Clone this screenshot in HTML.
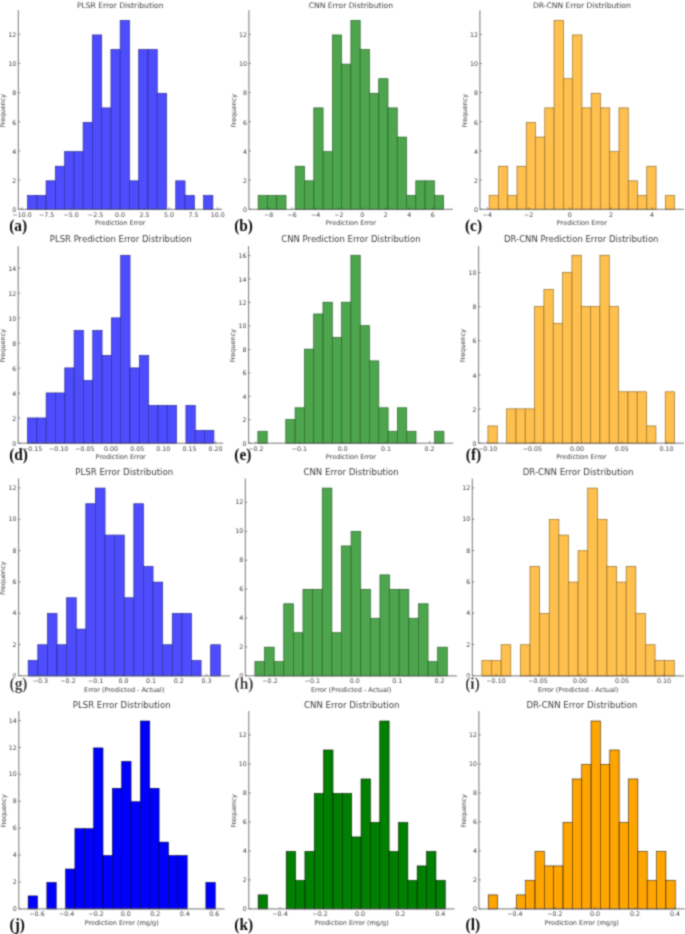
<!DOCTYPE html>
<html lang="en"><head><meta charset="utf-8"><title>Error distributions</title>
<style>html,body{margin:0;padding:0;background:#fff}svg{display:block}.t{font-family:"DejaVu Sans", "Liberation Sans", sans-serif;fill:#404040}.p{font-family:"Liberation Serif", "DejaVu Serif", serif;font-weight:bold;fill:#111}</style></head><body>
<svg width="685" height="934" viewBox="0 0 685 934">
<rect width="685" height="934" fill="#fff"/>
<defs><filter id="bl" x="0" y="0" width="685" height="934" filterUnits="userSpaceOnUse"><feConvolveMatrix order="3" kernelMatrix="0.0400 0.1200 0.0400 0.1200 0.3600 0.1200 0.0400 0.1200 0.0400" divisor="1" edgeMode="duplicate" preserveAlpha="false"/></filter></defs>
<g filter="url(#bl)">
<g>
<g fill="#4d4dff" stroke="#2a2a8c" stroke-width="0.7">
<rect x="27.56" y="195.41" width="9.26" height="13.89"/>
<rect x="36.83" y="195.41" width="9.26" height="13.89"/>
<rect x="46.09" y="180.83" width="9.26" height="28.47"/>
<rect x="55.35" y="166.24" width="9.26" height="43.06"/>
<rect x="64.62" y="151.66" width="9.26" height="57.64"/>
<rect x="73.88" y="151.66" width="9.26" height="57.64"/>
<rect x="83.15" y="122.48" width="9.26" height="86.82"/>
<rect x="92.41" y="34.97" width="9.26" height="174.33"/>
<rect x="101.67" y="107.90" width="9.26" height="101.40"/>
<rect x="110.94" y="49.55" width="9.26" height="159.75"/>
<rect x="120.20" y="20.38" width="9.26" height="188.92"/>
<rect x="129.46" y="180.83" width="9.26" height="28.47"/>
<rect x="138.73" y="49.55" width="9.26" height="159.75"/>
<rect x="147.99" y="49.55" width="9.26" height="159.75"/>
<rect x="157.25" y="93.31" width="9.26" height="115.99"/>
<rect x="175.78" y="180.83" width="9.26" height="28.47"/>
<rect x="185.05" y="195.41" width="9.26" height="13.89"/>
<rect x="203.57" y="195.41" width="9.26" height="13.89"/>
</g>
<path d="M18.30 10.20V209.30H222.10" fill="none" stroke="#555" stroke-width="0.8"/>
<path d="M18.30 209.30h2M18.30 180.13h2M18.30 150.96h2M18.30 121.78h2M18.30 92.61h2M18.30 63.44h2M18.30 34.27h2M22.10 209.30v-2M46.57 209.30v-2M71.04 209.30v-2M95.51 209.30v-2M119.98 209.30v-2M144.45 209.30v-2M168.92 209.30v-2M193.39 209.30v-2M217.86 209.30v-2" stroke="#444" stroke-width="0.6" fill="none"/>
<g class="t" font-size="6.3">
<text x="16.30" y="212.10" text-anchor="end">0</text>
<text x="16.30" y="182.93" text-anchor="end">2</text>
<text x="16.30" y="153.76" text-anchor="end">4</text>
<text x="16.30" y="124.58" text-anchor="end">6</text>
<text x="16.30" y="95.41" text-anchor="end">8</text>
<text x="16.30" y="66.24" text-anchor="end">10</text>
<text x="16.30" y="37.07" text-anchor="end">12</text>
<text x="22.10" y="216.80" text-anchor="middle">−10.0</text>
<text x="46.57" y="216.80" text-anchor="middle">−7.5</text>
<text x="71.04" y="216.80" text-anchor="middle">−5.0</text>
<text x="95.51" y="216.80" text-anchor="middle">−2.5</text>
<text x="119.98" y="216.80" text-anchor="middle">0.0</text>
<text x="144.45" y="216.80" text-anchor="middle">2.5</text>
<text x="168.92" y="216.80" text-anchor="middle">5.0</text>
<text x="193.39" y="216.80" text-anchor="middle">7.5</text>
<text x="217.86" y="216.80" text-anchor="middle">10.0</text>
</g>
<text class="t" font-size="7.6" x="120.20" y="7.90" text-anchor="middle">PLSR Error Distribution</text>
<text class="t" font-size="6.5" x="120.20" y="225.30" text-anchor="middle">Prediction Error</text>
<text class="t" font-size="6.5" transform="translate(5.10 110.75) rotate(-90)" text-anchor="middle">Frequency</text>
<text class="p" font-size="16" transform="translate(18.20 231.20) scale(0.96 1)" text-anchor="middle">(a)</text>
</g>
<g>
<g fill="#4da64d" stroke="#2a5c2a" stroke-width="0.7">
<rect x="258.17" y="195.41" width="9.27" height="13.89"/>
<rect x="267.45" y="195.41" width="9.27" height="13.89"/>
<rect x="276.72" y="195.41" width="9.27" height="13.89"/>
<rect x="295.26" y="166.24" width="9.27" height="43.06"/>
<rect x="304.54" y="180.83" width="9.27" height="28.47"/>
<rect x="313.81" y="107.90" width="9.27" height="101.40"/>
<rect x="323.08" y="151.66" width="9.27" height="57.64"/>
<rect x="332.35" y="34.97" width="9.27" height="174.33"/>
<rect x="341.63" y="64.14" width="9.27" height="145.16"/>
<rect x="350.90" y="20.38" width="9.27" height="188.92"/>
<rect x="360.17" y="49.55" width="9.27" height="159.75"/>
<rect x="369.45" y="93.31" width="9.27" height="115.99"/>
<rect x="378.72" y="78.73" width="9.27" height="130.57"/>
<rect x="387.99" y="107.90" width="9.27" height="101.40"/>
<rect x="397.26" y="137.07" width="9.27" height="72.23"/>
<rect x="406.54" y="195.41" width="9.27" height="13.89"/>
<rect x="415.81" y="180.83" width="9.27" height="28.47"/>
<rect x="425.08" y="180.83" width="9.27" height="28.47"/>
<rect x="434.35" y="195.41" width="9.27" height="13.89"/>
</g>
<path d="M248.90 10.20V209.30H452.90" fill="none" stroke="#555" stroke-width="0.8"/>
<path d="M248.90 209.30h2M248.90 180.13h2M248.90 150.96h2M248.90 121.78h2M248.90 92.61h2M248.90 63.44h2M248.90 34.27h2M268.70 209.30v-2M292.12 209.30v-2M315.54 209.30v-2M338.96 209.30v-2M362.38 209.30v-2M385.80 209.30v-2M409.22 209.30v-2M432.64 209.30v-2" stroke="#444" stroke-width="0.6" fill="none"/>
<g class="t" font-size="6.3">
<text x="246.90" y="212.10" text-anchor="end">0</text>
<text x="246.90" y="182.93" text-anchor="end">2</text>
<text x="246.90" y="153.76" text-anchor="end">4</text>
<text x="246.90" y="124.58" text-anchor="end">6</text>
<text x="246.90" y="95.41" text-anchor="end">8</text>
<text x="246.90" y="66.24" text-anchor="end">10</text>
<text x="246.90" y="37.07" text-anchor="end">12</text>
<text x="268.70" y="216.80" text-anchor="middle">−8</text>
<text x="292.12" y="216.80" text-anchor="middle">−6</text>
<text x="315.54" y="216.80" text-anchor="middle">−4</text>
<text x="338.96" y="216.80" text-anchor="middle">−2</text>
<text x="362.38" y="216.80" text-anchor="middle">0</text>
<text x="385.80" y="216.80" text-anchor="middle">2</text>
<text x="409.22" y="216.80" text-anchor="middle">4</text>
<text x="432.64" y="216.80" text-anchor="middle">6</text>
</g>
<text class="t" font-size="7.6" x="350.90" y="7.90" text-anchor="middle">CNN Error Distribution</text>
<text class="t" font-size="6.5" x="350.90" y="225.30" text-anchor="middle">Prediction Error</text>
<text class="t" font-size="6.5" transform="translate(235.70 110.75) rotate(-90)" text-anchor="middle">Frequency</text>
<text class="p" font-size="16" transform="translate(243.60 231.20) scale(0.96 1)" text-anchor="middle">(b)</text>
</g>
<g>
<g fill="#ffc04d" stroke="#8c6a2a" stroke-width="0.7">
<rect x="489.17" y="195.41" width="9.27" height="13.89"/>
<rect x="498.45" y="166.24" width="9.27" height="43.06"/>
<rect x="507.72" y="195.41" width="9.27" height="13.89"/>
<rect x="516.99" y="166.24" width="9.27" height="43.06"/>
<rect x="526.26" y="122.48" width="9.27" height="86.82"/>
<rect x="535.54" y="137.07" width="9.27" height="72.23"/>
<rect x="544.81" y="107.90" width="9.27" height="101.40"/>
<rect x="554.08" y="20.38" width="9.27" height="188.92"/>
<rect x="563.35" y="78.73" width="9.27" height="130.57"/>
<rect x="572.63" y="34.97" width="9.27" height="174.33"/>
<rect x="581.90" y="107.90" width="9.27" height="101.40"/>
<rect x="591.17" y="93.31" width="9.27" height="115.99"/>
<rect x="600.45" y="107.90" width="9.27" height="101.40"/>
<rect x="609.72" y="151.66" width="9.27" height="57.64"/>
<rect x="618.99" y="107.90" width="9.27" height="101.40"/>
<rect x="628.26" y="180.83" width="9.27" height="28.47"/>
<rect x="637.54" y="195.41" width="9.27" height="13.89"/>
<rect x="646.81" y="166.24" width="9.27" height="43.06"/>
<rect x="665.35" y="195.41" width="9.27" height="13.89"/>
</g>
<path d="M479.90 10.20V209.30H683.90" fill="none" stroke="#555" stroke-width="0.8"/>
<path d="M479.90 209.30h2M479.90 180.13h2M479.90 150.96h2M479.90 121.78h2M479.90 92.61h2M479.90 63.44h2M479.90 34.27h2M487.50 209.30v-2M528.65 209.30v-2M569.80 209.30v-2M610.95 209.30v-2M652.10 209.30v-2" stroke="#444" stroke-width="0.6" fill="none"/>
<g class="t" font-size="6.3">
<text x="477.90" y="212.10" text-anchor="end">0</text>
<text x="477.90" y="182.93" text-anchor="end">2</text>
<text x="477.90" y="153.76" text-anchor="end">4</text>
<text x="477.90" y="124.58" text-anchor="end">6</text>
<text x="477.90" y="95.41" text-anchor="end">8</text>
<text x="477.90" y="66.24" text-anchor="end">10</text>
<text x="477.90" y="37.07" text-anchor="end">12</text>
<text x="487.50" y="216.80" text-anchor="middle">−4</text>
<text x="528.65" y="216.80" text-anchor="middle">−2</text>
<text x="569.80" y="216.80" text-anchor="middle">0</text>
<text x="610.95" y="216.80" text-anchor="middle">2</text>
<text x="652.10" y="216.80" text-anchor="middle">4</text>
</g>
<text class="t" font-size="7.6" x="581.90" y="7.90" text-anchor="middle">DR-CNN Error Distribution</text>
<text class="t" font-size="6.5" x="581.90" y="225.30" text-anchor="middle">Prediction Error</text>
<text class="t" font-size="6.5" transform="translate(466.70 110.75) rotate(-90)" text-anchor="middle">Frequency</text>
<text class="p" font-size="16" transform="translate(473.50 231.20) scale(0.96 1)" text-anchor="middle">(c)</text>
</g>
<g>
<g fill="#4d4dff" stroke="#2a2a8c" stroke-width="0.7">
<rect x="27.52" y="417.97" width="9.32" height="25.23"/>
<rect x="36.84" y="417.97" width="9.32" height="25.23"/>
<rect x="46.15" y="392.94" width="9.32" height="50.26"/>
<rect x="55.47" y="392.94" width="9.32" height="50.26"/>
<rect x="64.79" y="367.91" width="9.32" height="75.29"/>
<rect x="74.11" y="330.37" width="9.32" height="112.83"/>
<rect x="83.43" y="380.43" width="9.32" height="62.77"/>
<rect x="92.75" y="330.37" width="9.32" height="112.83"/>
<rect x="102.06" y="355.40" width="9.32" height="87.80"/>
<rect x="111.38" y="317.86" width="9.32" height="125.34"/>
<rect x="120.70" y="255.29" width="9.32" height="187.91"/>
<rect x="130.02" y="367.91" width="9.32" height="75.29"/>
<rect x="139.34" y="355.40" width="9.32" height="87.80"/>
<rect x="148.65" y="405.46" width="9.32" height="37.74"/>
<rect x="157.97" y="405.46" width="9.32" height="37.74"/>
<rect x="167.29" y="405.46" width="9.32" height="37.74"/>
<rect x="185.93" y="405.46" width="9.32" height="37.74"/>
<rect x="195.25" y="430.49" width="9.32" height="12.71"/>
<rect x="204.56" y="430.49" width="9.32" height="12.71"/>
</g>
<path d="M18.20 246.10V443.20H223.20" fill="none" stroke="#555" stroke-width="0.8"/>
<path d="M18.20 443.20h2M18.20 418.17h2M18.20 393.14h2M18.20 368.11h2M18.20 343.09h2M18.20 318.06h2M18.20 293.03h2M18.20 268.00h2M32.60 443.20v-2M58.74 443.20v-2M84.88 443.20v-2M111.02 443.20v-2M137.16 443.20v-2M163.30 443.20v-2M189.44 443.20v-2M215.58 443.20v-2" stroke="#444" stroke-width="0.6" fill="none"/>
<g class="t" font-size="6.3">
<text x="16.20" y="445.80" text-anchor="end">0</text>
<text x="16.20" y="420.77" text-anchor="end">2</text>
<text x="16.20" y="395.74" text-anchor="end">4</text>
<text x="16.20" y="370.71" text-anchor="end">6</text>
<text x="16.20" y="345.69" text-anchor="end">8</text>
<text x="16.20" y="320.66" text-anchor="end">10</text>
<text x="16.20" y="295.63" text-anchor="end">12</text>
<text x="16.20" y="270.60" text-anchor="end">14</text>
<text x="32.60" y="451.00" text-anchor="middle">−0.15</text>
<text x="58.74" y="451.00" text-anchor="middle">−0.10</text>
<text x="84.88" y="451.00" text-anchor="middle">−0.05</text>
<text x="111.02" y="451.00" text-anchor="middle">0.00</text>
<text x="137.16" y="451.00" text-anchor="middle">0.05</text>
<text x="163.30" y="451.00" text-anchor="middle">0.10</text>
<text x="189.44" y="451.00" text-anchor="middle">0.15</text>
<text x="215.58" y="451.00" text-anchor="middle">0.20</text>
</g>
<text class="t" font-size="8.5" x="120.70" y="242.10" text-anchor="middle">PLSR Prediction Error Distribution</text>
<text class="t" font-size="6.5" x="120.70" y="459.40" text-anchor="middle">Prediction Error</text>
<text class="t" font-size="6.5" transform="translate(5.00 345.65) rotate(-90)" text-anchor="middle">Frequency</text>
<text class="p" font-size="16" transform="translate(18.60 460.40) scale(0.96 1)" text-anchor="middle">(d)</text>
</g>
<g>
<g fill="#4da64d" stroke="#2a5c2a" stroke-width="0.7">
<rect x="257.90" y="431.27" width="9.30" height="11.93"/>
<rect x="285.80" y="419.54" width="9.30" height="23.66"/>
<rect x="295.10" y="407.80" width="9.30" height="35.40"/>
<rect x="304.40" y="349.14" width="9.30" height="94.06"/>
<rect x="313.70" y="313.95" width="9.30" height="129.25"/>
<rect x="323.00" y="302.21" width="9.30" height="140.99"/>
<rect x="332.30" y="337.41" width="9.30" height="105.79"/>
<rect x="341.60" y="302.21" width="9.30" height="140.99"/>
<rect x="350.90" y="255.29" width="9.30" height="187.91"/>
<rect x="360.20" y="325.68" width="9.30" height="117.52"/>
<rect x="369.50" y="360.88" width="9.30" height="82.32"/>
<rect x="378.80" y="407.80" width="9.30" height="35.40"/>
<rect x="388.10" y="431.27" width="9.30" height="11.93"/>
<rect x="397.40" y="407.80" width="9.30" height="35.40"/>
<rect x="406.70" y="431.27" width="9.30" height="11.93"/>
<rect x="434.60" y="431.27" width="9.30" height="11.93"/>
</g>
<path d="M248.60 246.10V443.20H453.20" fill="none" stroke="#555" stroke-width="0.8"/>
<path d="M248.60 443.20h2M248.60 419.74h2M248.60 396.27h2M248.60 372.81h2M248.60 349.34h2M248.60 325.88h2M248.60 302.41h2M248.60 278.95h2M248.60 255.49h2M255.90 443.20v-2M299.30 443.20v-2M342.70 443.20v-2M386.10 443.20v-2M429.50 443.20v-2" stroke="#444" stroke-width="0.6" fill="none"/>
<g class="t" font-size="6.3">
<text x="246.60" y="445.80" text-anchor="end">0</text>
<text x="246.60" y="422.34" text-anchor="end">2</text>
<text x="246.60" y="398.87" text-anchor="end">4</text>
<text x="246.60" y="375.41" text-anchor="end">6</text>
<text x="246.60" y="351.94" text-anchor="end">8</text>
<text x="246.60" y="328.48" text-anchor="end">10</text>
<text x="246.60" y="305.01" text-anchor="end">12</text>
<text x="246.60" y="281.55" text-anchor="end">14</text>
<text x="246.60" y="258.09" text-anchor="end">16</text>
<text x="255.90" y="451.00" text-anchor="middle">−0.2</text>
<text x="299.30" y="451.00" text-anchor="middle">−0.1</text>
<text x="342.70" y="451.00" text-anchor="middle">0.0</text>
<text x="386.10" y="451.00" text-anchor="middle">0.1</text>
<text x="429.50" y="451.00" text-anchor="middle">0.2</text>
</g>
<text class="t" font-size="8.5" x="350.90" y="242.10" text-anchor="middle">CNN Prediction Error Distribution</text>
<text class="t" font-size="6.5" x="350.90" y="459.40" text-anchor="middle">Prediction Error</text>
<text class="t" font-size="6.5" transform="translate(235.40 345.65) rotate(-90)" text-anchor="middle">Frequency</text>
<text class="p" font-size="16" transform="translate(242.80 460.40) scale(0.96 1)" text-anchor="middle">(e)</text>
</g>
<g>
<g fill="#ffc04d" stroke="#8c6a2a" stroke-width="0.7">
<rect x="487.93" y="425.94" width="9.33" height="17.26"/>
<rect x="506.60" y="408.87" width="9.33" height="34.33"/>
<rect x="515.93" y="408.87" width="9.33" height="34.33"/>
<rect x="525.26" y="408.87" width="9.33" height="34.33"/>
<rect x="534.59" y="306.48" width="9.33" height="136.72"/>
<rect x="543.92" y="289.42" width="9.33" height="153.78"/>
<rect x="553.25" y="323.55" width="9.33" height="119.65"/>
<rect x="562.59" y="272.35" width="9.33" height="170.85"/>
<rect x="571.92" y="255.29" width="9.33" height="187.91"/>
<rect x="581.25" y="306.48" width="9.33" height="136.72"/>
<rect x="590.58" y="306.48" width="9.33" height="136.72"/>
<rect x="599.91" y="255.29" width="9.33" height="187.91"/>
<rect x="609.25" y="306.48" width="9.33" height="136.72"/>
<rect x="618.58" y="391.81" width="9.33" height="51.39"/>
<rect x="627.91" y="391.81" width="9.33" height="51.39"/>
<rect x="637.24" y="391.81" width="9.33" height="51.39"/>
<rect x="646.57" y="425.94" width="9.33" height="17.26"/>
<rect x="665.24" y="391.81" width="9.33" height="51.39"/>
</g>
<path d="M478.60 246.10V443.20H683.90" fill="none" stroke="#555" stroke-width="0.8"/>
<path d="M478.60 443.20h2M478.60 409.07h2M478.60 374.94h2M478.60 340.81h2M478.60 306.68h2M478.60 272.55h2M487.60 443.20v-2M532.35 443.20v-2M577.10 443.20v-2M621.85 443.20v-2M666.60 443.20v-2" stroke="#444" stroke-width="0.6" fill="none"/>
<g class="t" font-size="6.3">
<text x="476.60" y="445.80" text-anchor="end">0</text>
<text x="476.60" y="411.67" text-anchor="end">2</text>
<text x="476.60" y="377.54" text-anchor="end">4</text>
<text x="476.60" y="343.41" text-anchor="end">6</text>
<text x="476.60" y="309.28" text-anchor="end">8</text>
<text x="476.60" y="275.15" text-anchor="end">10</text>
<text x="487.60" y="451.00" text-anchor="middle">−0.10</text>
<text x="532.35" y="451.00" text-anchor="middle">−0.05</text>
<text x="577.10" y="451.00" text-anchor="middle">0.00</text>
<text x="621.85" y="451.00" text-anchor="middle">0.05</text>
<text x="666.60" y="451.00" text-anchor="middle">0.10</text>
</g>
<text class="t" font-size="8.5" x="581.25" y="242.10" text-anchor="middle">DR-CNN Prediction Error Distribution</text>
<text class="t" font-size="6.5" x="581.25" y="459.40" text-anchor="middle">Prediction Error</text>
<text class="t" font-size="6.5" transform="translate(465.40 345.65) rotate(-90)" text-anchor="middle">Frequency</text>
<text class="p" font-size="16" transform="translate(473.50 460.40) scale(0.96 1)" text-anchor="middle">(f)</text>
</g>
<g>
<g fill="#4d4dff" stroke="#2a2a8c" stroke-width="0.7">
<rect x="28.20" y="660.43" width="9.60" height="15.47"/>
<rect x="37.81" y="644.77" width="9.60" height="31.13"/>
<rect x="47.41" y="613.43" width="9.60" height="62.47"/>
<rect x="57.02" y="644.77" width="9.60" height="31.13"/>
<rect x="66.62" y="597.77" width="9.60" height="78.13"/>
<rect x="76.23" y="629.10" width="9.60" height="46.80"/>
<rect x="85.83" y="503.77" width="9.60" height="172.13"/>
<rect x="95.44" y="488.10" width="9.60" height="187.80"/>
<rect x="105.04" y="535.10" width="9.60" height="140.80"/>
<rect x="114.65" y="535.10" width="9.60" height="140.80"/>
<rect x="124.25" y="597.77" width="9.60" height="78.13"/>
<rect x="133.85" y="503.77" width="9.60" height="172.13"/>
<rect x="143.46" y="566.43" width="9.60" height="109.47"/>
<rect x="153.06" y="582.10" width="9.60" height="93.80"/>
<rect x="162.67" y="644.77" width="9.60" height="31.13"/>
<rect x="172.27" y="613.43" width="9.60" height="62.47"/>
<rect x="181.88" y="613.43" width="9.60" height="62.47"/>
<rect x="191.48" y="660.43" width="9.60" height="15.47"/>
<rect x="210.69" y="644.77" width="9.60" height="31.13"/>
</g>
<path d="M18.60 478.50V675.90H229.90" fill="none" stroke="#555" stroke-width="0.8"/>
<path d="M18.60 675.90h2M18.60 644.57h2M18.60 613.23h2M18.60 581.90h2M18.60 550.57h2M18.60 519.23h2M18.60 487.90h2M40.30 675.90v-2M68.00 675.90v-2M95.70 675.90v-2M123.40 675.90v-2M151.10 675.90v-2M178.80 675.90v-2M206.50 675.90v-2" stroke="#444" stroke-width="0.6" fill="none"/>
<g class="t" font-size="6.3">
<text x="16.60" y="678.00" text-anchor="end">0</text>
<text x="16.60" y="646.67" text-anchor="end">2</text>
<text x="16.60" y="615.33" text-anchor="end">4</text>
<text x="16.60" y="584.00" text-anchor="end">6</text>
<text x="16.60" y="552.67" text-anchor="end">8</text>
<text x="16.60" y="521.33" text-anchor="end">10</text>
<text x="16.60" y="490.00" text-anchor="end">12</text>
<text x="40.30" y="683.30" text-anchor="middle">−0.3</text>
<text x="68.00" y="683.30" text-anchor="middle">−0.2</text>
<text x="95.70" y="683.30" text-anchor="middle">−0.1</text>
<text x="123.40" y="683.30" text-anchor="middle">0.0</text>
<text x="151.10" y="683.30" text-anchor="middle">0.1</text>
<text x="178.80" y="683.30" text-anchor="middle">0.2</text>
<text x="206.50" y="683.30" text-anchor="middle">0.3</text>
</g>
<text class="t" font-size="8.6" x="124.25" y="474.70" text-anchor="middle">PLSR Error Distribution</text>
<text class="t" font-size="6.5" x="124.25" y="692.20" text-anchor="middle">Error (Predicted - Actual)</text>
<text class="t" font-size="6.5" transform="translate(5.40 578.20) rotate(-90)" text-anchor="middle">Frequency</text>
<clipPath id="cg"><rect x="6.50" y="677.4" width="24" height="20"/></clipPath>
<rect x="9.00" y="677.4" width="19" height="15.5" fill="#fff"/>
<g clip-path="url(#cg)">
<text class="p" font-size="16" transform="translate(18.50 689.10) scale(0.96 1)" text-anchor="middle">(g)</text>
</g>
</g>
<g>
<g fill="#4da64d" stroke="#2a5c2a" stroke-width="0.7">
<rect x="254.92" y="661.64" width="9.62" height="14.26"/>
<rect x="264.54" y="647.18" width="9.62" height="28.72"/>
<rect x="274.15" y="661.64" width="9.62" height="14.26"/>
<rect x="283.77" y="603.79" width="9.62" height="72.11"/>
<rect x="293.39" y="632.72" width="9.62" height="43.18"/>
<rect x="303.01" y="589.33" width="9.62" height="86.57"/>
<rect x="312.63" y="589.33" width="9.62" height="86.57"/>
<rect x="322.25" y="488.10" width="9.62" height="187.80"/>
<rect x="331.86" y="632.72" width="9.62" height="43.18"/>
<rect x="341.48" y="545.95" width="9.62" height="129.95"/>
<rect x="351.10" y="531.48" width="9.62" height="144.42"/>
<rect x="360.72" y="589.33" width="9.62" height="86.57"/>
<rect x="370.34" y="618.25" width="9.62" height="57.65"/>
<rect x="379.95" y="574.87" width="9.62" height="101.03"/>
<rect x="389.57" y="589.33" width="9.62" height="86.57"/>
<rect x="399.19" y="589.33" width="9.62" height="86.57"/>
<rect x="408.81" y="618.25" width="9.62" height="57.65"/>
<rect x="418.43" y="603.79" width="9.62" height="72.11"/>
<rect x="428.05" y="661.64" width="9.62" height="14.26"/>
<rect x="437.66" y="647.18" width="9.62" height="28.72"/>
</g>
<path d="M245.30 478.50V675.90H456.90" fill="none" stroke="#555" stroke-width="0.8"/>
<path d="M245.30 675.90h2M245.30 646.98h2M245.30 618.05h2M245.30 589.13h2M245.30 560.21h2M245.30 531.28h2M245.30 502.36h2M270.00 675.90v-2M312.40 675.90v-2M354.80 675.90v-2M397.20 675.90v-2M439.60 675.90v-2" stroke="#444" stroke-width="0.6" fill="none"/>
<g class="t" font-size="6.3">
<text x="243.30" y="678.00" text-anchor="end">0</text>
<text x="243.30" y="649.08" text-anchor="end">2</text>
<text x="243.30" y="620.15" text-anchor="end">4</text>
<text x="243.30" y="591.23" text-anchor="end">6</text>
<text x="243.30" y="562.31" text-anchor="end">8</text>
<text x="243.30" y="533.38" text-anchor="end">10</text>
<text x="243.30" y="504.46" text-anchor="end">12</text>
<text x="270.00" y="683.30" text-anchor="middle">−0.2</text>
<text x="312.40" y="683.30" text-anchor="middle">−0.1</text>
<text x="354.80" y="683.30" text-anchor="middle">0.0</text>
<text x="397.20" y="683.30" text-anchor="middle">0.1</text>
<text x="439.60" y="683.30" text-anchor="middle">0.2</text>
</g>
<text class="t" font-size="8.6" x="351.10" y="474.70" text-anchor="middle">CNN Error Distribution</text>
<text class="t" font-size="6.5" x="351.10" y="692.20" text-anchor="middle">Error (Predicted - Actual)</text>
<clipPath id="ch"><rect x="232.00" y="677.4" width="24" height="20"/></clipPath>
<rect x="234.50" y="677.4" width="19" height="15.5" fill="#fff"/>
<g clip-path="url(#ch)">
<text class="p" font-size="16" transform="translate(244.00 689.10) scale(0.96 1)" text-anchor="middle">(h)</text>
</g>
</g>
<g>
<g fill="#ffc04d" stroke="#8c6a2a" stroke-width="0.7">
<rect x="481.92" y="660.43" width="9.62" height="15.47"/>
<rect x="491.54" y="660.43" width="9.62" height="15.47"/>
<rect x="501.15" y="644.77" width="9.62" height="31.13"/>
<rect x="520.39" y="644.77" width="9.62" height="31.13"/>
<rect x="530.01" y="566.43" width="9.62" height="109.47"/>
<rect x="539.63" y="613.43" width="9.62" height="62.47"/>
<rect x="549.25" y="519.43" width="9.62" height="156.47"/>
<rect x="558.86" y="535.10" width="9.62" height="140.80"/>
<rect x="568.48" y="582.10" width="9.62" height="93.80"/>
<rect x="578.10" y="550.77" width="9.62" height="125.13"/>
<rect x="587.72" y="488.10" width="9.62" height="187.80"/>
<rect x="597.34" y="519.43" width="9.62" height="156.47"/>
<rect x="606.95" y="566.43" width="9.62" height="109.47"/>
<rect x="616.57" y="582.10" width="9.62" height="93.80"/>
<rect x="626.19" y="566.43" width="9.62" height="109.47"/>
<rect x="635.81" y="613.43" width="9.62" height="62.47"/>
<rect x="645.43" y="644.77" width="9.62" height="31.13"/>
<rect x="655.05" y="660.43" width="9.62" height="15.47"/>
<rect x="664.66" y="660.43" width="9.62" height="15.47"/>
</g>
<path d="M472.30 478.50V675.90H683.90" fill="none" stroke="#555" stroke-width="0.8"/>
<path d="M472.30 675.90h2M472.30 644.57h2M472.30 613.23h2M472.30 581.90h2M472.30 550.57h2M472.30 519.23h2M472.30 487.90h2M496.00 675.90v-2M538.00 675.90v-2M580.00 675.90v-2M622.00 675.90v-2M664.00 675.90v-2" stroke="#444" stroke-width="0.6" fill="none"/>
<g class="t" font-size="6.3">
<text x="470.30" y="678.00" text-anchor="end">0</text>
<text x="470.30" y="646.67" text-anchor="end">2</text>
<text x="470.30" y="615.33" text-anchor="end">4</text>
<text x="470.30" y="584.00" text-anchor="end">6</text>
<text x="470.30" y="552.67" text-anchor="end">8</text>
<text x="470.30" y="521.33" text-anchor="end">10</text>
<text x="470.30" y="490.00" text-anchor="end">12</text>
<text x="496.00" y="683.30" text-anchor="middle">−0.10</text>
<text x="538.00" y="683.30" text-anchor="middle">−0.05</text>
<text x="580.00" y="683.30" text-anchor="middle">0.00</text>
<text x="622.00" y="683.30" text-anchor="middle">0.05</text>
<text x="664.00" y="683.30" text-anchor="middle">0.10</text>
</g>
<text class="t" font-size="8.6" x="578.10" y="474.70" text-anchor="middle">DR-CNN Error Distribution</text>
<text class="t" font-size="6.5" x="578.10" y="692.20" text-anchor="middle">Error (Predicted - Actual)</text>
<clipPath id="ci"><rect x="460.50" y="677.4" width="24" height="20"/></clipPath>
<rect x="463.00" y="677.4" width="19" height="15.5" fill="#fff"/>
<g clip-path="url(#ci)">
<text class="p" font-size="16" transform="translate(472.50 689.10) scale(0.96 1)" text-anchor="middle">(i)</text>
</g>
</g>
<g>
<g fill="#0000ff" stroke="#000" stroke-width="0.6">
<rect x="28.15" y="895.94" width="9.35" height="12.96"/>
<rect x="46.86" y="882.49" width="9.35" height="26.41"/>
<rect x="65.57" y="869.03" width="9.35" height="39.87"/>
<rect x="74.93" y="828.67" width="9.35" height="80.23"/>
<rect x="84.28" y="828.67" width="9.35" height="80.23"/>
<rect x="93.64" y="747.93" width="9.35" height="160.97"/>
<rect x="102.99" y="855.58" width="9.35" height="53.32"/>
<rect x="112.35" y="788.30" width="9.35" height="120.60"/>
<rect x="121.70" y="761.39" width="9.35" height="147.51"/>
<rect x="131.05" y="801.75" width="9.35" height="107.15"/>
<rect x="140.41" y="721.02" width="9.35" height="187.88"/>
<rect x="149.76" y="788.30" width="9.35" height="120.60"/>
<rect x="159.12" y="842.12" width="9.35" height="66.78"/>
<rect x="168.47" y="855.58" width="9.35" height="53.32"/>
<rect x="177.83" y="855.58" width="9.35" height="53.32"/>
<rect x="205.89" y="882.49" width="9.35" height="26.41"/>
</g>
<path d="M18.80 711.10V908.90H224.60" fill="none" stroke="#555" stroke-width="0.8"/>
<path d="M18.80 908.90h2M18.80 881.99h2M18.80 855.08h2M18.80 828.17h2M18.80 801.25h2M18.80 774.34h2M18.80 747.43h2M18.80 720.52h2M37.00 908.90v-2M66.55 908.90v-2M96.10 908.90v-2M125.65 908.90v-2M155.20 908.90v-2M184.75 908.90v-2M214.30 908.90v-2" stroke="#444" stroke-width="0.6" fill="none"/>
<g class="t" font-size="6.3">
<text x="16.80" y="911.00" text-anchor="end">0</text>
<text x="16.80" y="884.09" text-anchor="end">2</text>
<text x="16.80" y="857.18" text-anchor="end">4</text>
<text x="16.80" y="830.27" text-anchor="end">6</text>
<text x="16.80" y="803.35" text-anchor="end">8</text>
<text x="16.80" y="776.44" text-anchor="end">10</text>
<text x="16.80" y="749.53" text-anchor="end">12</text>
<text x="16.80" y="722.62" text-anchor="end">14</text>
<text x="37.00" y="915.60" text-anchor="middle">−0.6</text>
<text x="66.55" y="915.60" text-anchor="middle">−0.4</text>
<text x="96.10" y="915.60" text-anchor="middle">−0.2</text>
<text x="125.65" y="915.60" text-anchor="middle">0.0</text>
<text x="155.20" y="915.60" text-anchor="middle">0.2</text>
<text x="184.75" y="915.60" text-anchor="middle">0.4</text>
<text x="214.30" y="915.60" text-anchor="middle">0.6</text>
</g>
<text class="t" font-size="8.6" x="121.70" y="708.40" text-anchor="middle">PLSR Error Distribution</text>
<text class="t" font-size="6.5" x="121.70" y="925.00" text-anchor="middle">Prediction Error (mg/g)</text>
<text class="t" font-size="6.5" transform="translate(5.60 811.00) rotate(-90)" text-anchor="middle">Frequency</text>
<text class="p" font-size="16" transform="translate(17.20 929.50) scale(0.96 1)" text-anchor="middle">(j)</text>
</g>
<g>
<g fill="#008000" stroke="#000" stroke-width="0.6">
<rect x="258.15" y="894.91" width="9.35" height="13.99"/>
<rect x="286.22" y="851.44" width="9.35" height="57.46"/>
<rect x="295.57" y="880.42" width="9.35" height="28.48"/>
<rect x="304.93" y="851.44" width="9.35" height="57.46"/>
<rect x="314.28" y="793.47" width="9.35" height="115.43"/>
<rect x="323.64" y="750.00" width="9.35" height="158.90"/>
<rect x="332.99" y="793.47" width="9.35" height="115.43"/>
<rect x="342.35" y="793.47" width="9.35" height="115.43"/>
<rect x="351.70" y="836.95" width="9.35" height="71.95"/>
<rect x="361.05" y="778.98" width="9.35" height="129.92"/>
<rect x="370.41" y="822.45" width="9.35" height="86.45"/>
<rect x="379.76" y="721.02" width="9.35" height="187.88"/>
<rect x="389.12" y="851.44" width="9.35" height="57.46"/>
<rect x="398.47" y="822.45" width="9.35" height="86.45"/>
<rect x="407.83" y="880.42" width="9.35" height="28.48"/>
<rect x="417.18" y="865.93" width="9.35" height="42.97"/>
<rect x="426.54" y="851.44" width="9.35" height="57.46"/>
<rect x="435.89" y="880.42" width="9.35" height="28.48"/>
</g>
<path d="M248.80 711.10V908.90H454.60" fill="none" stroke="#555" stroke-width="0.8"/>
<path d="M248.80 908.90h2M248.80 879.92h2M248.80 850.94h2M248.80 821.95h2M248.80 792.97h2M248.80 763.99h2M248.80 735.01h2M280.00 908.90v-2M320.05 908.90v-2M360.10 908.90v-2M400.15 908.90v-2M440.20 908.90v-2" stroke="#444" stroke-width="0.6" fill="none"/>
<g class="t" font-size="6.3">
<text x="246.80" y="911.00" text-anchor="end">0</text>
<text x="246.80" y="882.02" text-anchor="end">2</text>
<text x="246.80" y="853.04" text-anchor="end">4</text>
<text x="246.80" y="824.05" text-anchor="end">6</text>
<text x="246.80" y="795.07" text-anchor="end">8</text>
<text x="246.80" y="766.09" text-anchor="end">10</text>
<text x="246.80" y="737.11" text-anchor="end">12</text>
<text x="280.00" y="915.60" text-anchor="middle">−0.4</text>
<text x="320.05" y="915.60" text-anchor="middle">−0.2</text>
<text x="360.10" y="915.60" text-anchor="middle">0.0</text>
<text x="400.15" y="915.60" text-anchor="middle">0.2</text>
<text x="440.20" y="915.60" text-anchor="middle">0.4</text>
</g>
<text class="t" font-size="8.6" x="351.70" y="708.40" text-anchor="middle">CNN Error Distribution</text>
<text class="t" font-size="6.5" x="351.70" y="925.00" text-anchor="middle">Prediction Error (mg/g)</text>
<text class="t" font-size="6.5" transform="translate(235.60 811.00) rotate(-90)" text-anchor="middle">Frequency</text>
<text class="p" font-size="16" transform="translate(243.70 929.50) scale(0.96 1)" text-anchor="middle">(k)</text>
</g>
<g>
<g fill="#ffa500" stroke="#000" stroke-width="0.6">
<rect x="488.25" y="894.91" width="9.35" height="13.99"/>
<rect x="516.30" y="894.91" width="9.35" height="13.99"/>
<rect x="525.65" y="880.42" width="9.35" height="28.48"/>
<rect x="535.00" y="851.44" width="9.35" height="57.46"/>
<rect x="544.35" y="865.93" width="9.35" height="42.97"/>
<rect x="553.70" y="865.93" width="9.35" height="42.97"/>
<rect x="563.05" y="822.45" width="9.35" height="86.45"/>
<rect x="572.40" y="778.98" width="9.35" height="129.92"/>
<rect x="581.75" y="764.49" width="9.35" height="144.41"/>
<rect x="591.10" y="721.02" width="9.35" height="187.88"/>
<rect x="600.45" y="764.49" width="9.35" height="144.41"/>
<rect x="609.80" y="750.00" width="9.35" height="158.90"/>
<rect x="619.15" y="822.45" width="9.35" height="86.45"/>
<rect x="628.50" y="778.98" width="9.35" height="129.92"/>
<rect x="637.85" y="851.44" width="9.35" height="57.46"/>
<rect x="647.20" y="880.42" width="9.35" height="28.48"/>
<rect x="656.55" y="851.44" width="9.35" height="57.46"/>
<rect x="665.90" y="880.42" width="9.35" height="28.48"/>
</g>
<path d="M478.90 711.10V908.90H684.60" fill="none" stroke="#555" stroke-width="0.8"/>
<path d="M478.90 908.90h2M478.90 879.92h2M478.90 850.94h2M478.90 821.95h2M478.90 792.97h2M478.90 763.99h2M478.90 735.01h2M514.80 908.90v-2M554.85 908.90v-2M594.90 908.90v-2M634.95 908.90v-2M675.00 908.90v-2" stroke="#444" stroke-width="0.6" fill="none"/>
<g class="t" font-size="6.3">
<text x="476.90" y="911.00" text-anchor="end">0</text>
<text x="476.90" y="882.02" text-anchor="end">2</text>
<text x="476.90" y="853.04" text-anchor="end">4</text>
<text x="476.90" y="824.05" text-anchor="end">6</text>
<text x="476.90" y="795.07" text-anchor="end">8</text>
<text x="476.90" y="766.09" text-anchor="end">10</text>
<text x="476.90" y="737.11" text-anchor="end">12</text>
<text x="514.80" y="915.60" text-anchor="middle">−0.4</text>
<text x="554.85" y="915.60" text-anchor="middle">−0.2</text>
<text x="594.90" y="915.60" text-anchor="middle">0.0</text>
<text x="634.95" y="915.60" text-anchor="middle">0.2</text>
<text x="675.00" y="915.60" text-anchor="middle">0.4</text>
</g>
<text class="t" font-size="8.6" x="581.75" y="708.40" text-anchor="middle">DR-CNN Error Distribution</text>
<text class="t" font-size="6.5" x="581.75" y="925.00" text-anchor="middle">Prediction Error (mg/g)</text>
<text class="t" font-size="6.5" transform="translate(465.70 811.00) rotate(-90)" text-anchor="middle">Frequency</text>
<text class="p" font-size="16" transform="translate(472.80 929.50) scale(0.96 1)" text-anchor="middle">(l)</text>
</g>
</g>
</svg></body></html>
